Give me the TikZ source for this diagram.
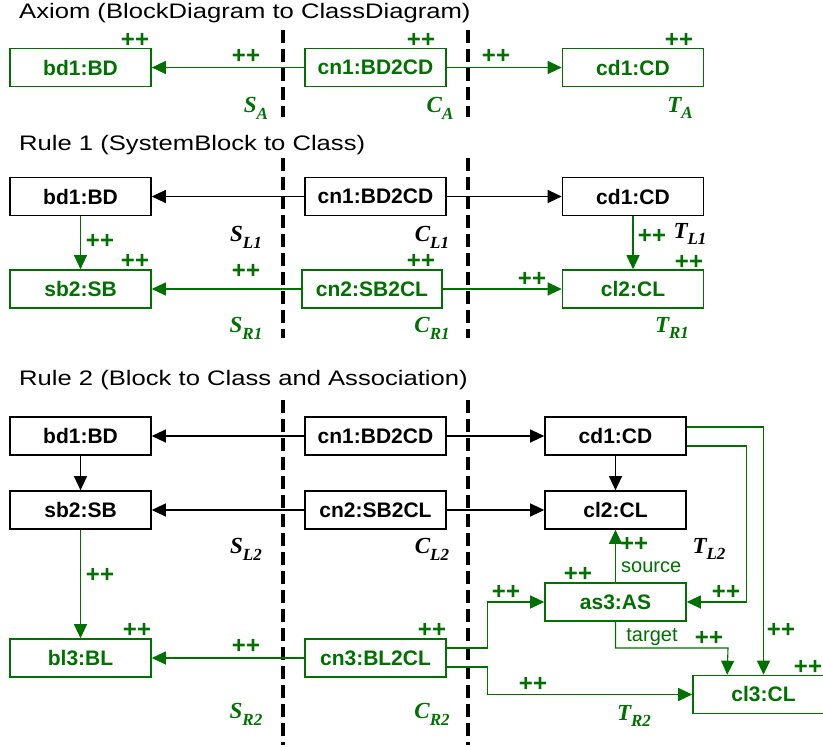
\documentclass[tikz,border=0pt]{standalone}
\usepackage{fontspec}
\usepackage{graphicx}
\usepackage{tikz}
\usetikzlibrary{arrows.meta}
\usetikzlibrary{positioning}
\setmainfont{Liberation Sans}
\newfontfamily\serifbi{Liberation Serif}[UprightFont=*, BoldItalicFont=* Bold Italic]
\definecolor{tggreen}{RGB}{0,112,0}
\newcommand{\rlbl}[2]{#1\raisebox{-0.3em}{\fontsize{17}{17}\selectfont #2}}

\begin{document}
\begin{tikzpicture}[x=1pt,y=-1pt,
    >={Triangle[length=14pt,width=13pt]},
    box/.style={draw,line width=1.6pt,minimum width=141pt,minimum height=38pt,inner sep=0pt,
        font=\bfseries\fontsize{21}{21}\selectfont},
    newbox/.style={box,draw=tggreen,text=tggreen},
    conn/.style={->,line width=1.1pt},
    newconn/.style={conn,draw=tggreen},
    pp/.style={text=tggreen,font=\bfseries\fontsize{24}{24}\selectfont,inner sep=0pt,text depth=0pt},
    word/.style={text=tggreen,font=\fontsize{20}{20}\selectfont,inner sep=0pt},
    lbl/.style={font=\serifbi\bfseries\itshape\fontsize{23}{23}\selectfont,inner sep=0pt},
    newlbl/.style={lbl,text=tggreen},
    sep/.style={line width=3.2pt,dash pattern=on 13pt off 6pt},
    title/.style={anchor=west,inner sep=0pt,font=\fontsize{21}{21}\selectfont}]
        \useasboundingbox (0,0) rectangle (823,747);
        \clip (0,0) rectangle (823,747);

        % Axiom
        \node[title] (tA) at (19,13) {\scalebox{1.22}[1]{Axiom (BlockDiagram to ClassDiagram)}};
        \draw[sep] (283,30) -- (283,117);
        \draw[sep] (468,30) -- (468,117);
        \node[newbox] (abd) at (80.5,67.5) {bd1:BD};
        \node[newbox] (acn) at (375.5,67.5) {cn1:BD2CD};
        \node[newbox] (acd) at (633,67.5) {cd1:CD};
        \draw[newconn] (acn) -- (abd);
        \draw[newconn] (acn) -- (acd);
        \node[pp] (ap1) at (135,40) {++};
        \node[pp] (ap2) at (246,56) {++};
        \node[pp] (ap3) at (421,40) {++};
        \node[pp] (ap4) at (496,56) {++};
        \node[pp] (ap5) at (679,40) {++};
        \node[newlbl] (aS) at (256,108) {\rlbl{S}{A}};
        \node[newlbl] (aC) at (440,108) {\rlbl{C}{A}};
        \node[newlbl] (aT) at (680,108) {\rlbl{T}{A}};

        % Rule 1
        \node[title] (t1) at (19,145) {\scalebox{1.22}[1]{Rule 1 (SystemBlock to Class)}};
        \draw[sep] (283,158) -- (283,338);
        \draw[sep] (468,158) -- (468,338);
        \node[box] (bd1) at (80.5,196.5) {bd1:BD};
        \node[box] (cn1) at (375.5,196.5) {cn1:BD2CD};
        \node[box] (cd1) at (633,196.5) {cd1:CD};
        \node[newbox] (sb2) at (80.5,289) {sb2:SB};
        \node[newbox,minimum width=140pt] (cn2) at (372,289) {cn2:SB2CL};
        \node[newbox] (cl2) at (633,289) {cl2:CL};
        \draw[conn] (cn1) -- (bd1);
        \draw[conn] (cn1) -- (cd1);
        \draw[newconn] (bd1) -- (sb2);
        \draw[newconn] (cd1) -- (cl2);
        \draw[newconn] (cn2) -- (sb2);
        \draw[newconn] (cn2) -- (cl2);
        \node[pp] (p11) at (100,241) {++};
        \node[pp] (p12) at (135,261) {++};
        \node[pp] (p13) at (246,271) {++};
        \node[pp] (p14) at (421,261) {++};
        \node[pp] (p15) at (532,279) {++};
        \node[pp] (p16) at (652,236) {++};
        \node[pp] (p17) at (689,262) {++};
        \node[lbl] (sL1) at (246,237) {\rlbl{S}{L1}};
        \node[lbl] (cL1) at (432,237) {\rlbl{C}{L1}};
        \node[lbl] (tL1) at (690,234) {\rlbl{T}{L1}};
        \node[newlbl] (sR1) at (246,328) {\rlbl{S}{R1}};
        \node[newlbl] (cR1) at (432,328) {\rlbl{C}{R1}};
        \node[newlbl] (tR1) at (672,328) {\rlbl{T}{R1}};

        % Rule 2
        \node[title] (t2) at (19,380) {\scalebox{1.22}[1]{Rule 2 (Block to Class and Association)}};
        \draw[sep] (283,400) -- (283,745);
        \draw[sep] (468,400) -- (468,745);
        \node[box] (bd) at (80.5,436) {bd1:BD};
        \node[box] (cn) at (375.5,436) {cn1:BD2CD};
        \node[box] (cd) at (615.5,436) {cd1:CD};
        \node[box] (sb) at (80.5,510) {sb2:SB};
        \node[box] (cnb) at (375.5,510) {cn2:SB2CL};
        \node[box] (cl) at (615.5,510) {cl2:CL};
        \node[newbox] (bl3) at (80.5,658) {bl3:BL};
        \node[newbox] (cn3) at (375.5,658) {cn3:BL2CL};
        \node[newbox] (as3) at (615.5,602) {as3:AS};
        \node[newbox] (cl3) at (763.5,694.5) {cl3:CL};
        \draw[conn] (cn) -- (bd);
        \draw[conn] (cn) -- (cd);
        \draw[conn] (bd) -- (sb);
        \draw[conn] (cnb) -- (sb);
        \draw[conn] (cnb) -- (cl);
        \draw[conn] (cd) -- (cl);
        \draw[newconn] (sb) -- (bl3);
        \draw[newconn] (cn3) -- (bl3);
        \draw[newconn] ([yshift=10pt]cn3.east) -- ++(41,0) |- (as3.west);
        \draw[newconn] ([yshift=-9pt]cn3.east) -- ++(41,0) |- (cl3.west);
        \draw[newconn] (as3) -- (cl);
        \coordinate (tgt) at (728,648);
        \draw[newconn] (as3.south) |- (tgt) -- ([xshift=35pt]cl3.north west);
        \draw[newconn] ([yshift=-10pt]cd.east) -- ++(60,0) |- (as3.east);
        \draw[newconn] ([yshift=9pt]cd.east) -| (cl3.north);
        \node[pp] (p21) at (100,575) {++};
        \node[pp] (p22) at (137,630) {++};
        \node[pp] (p23) at (246,646) {++};
        \node[pp] (p24) at (432,630) {++};
        \node[pp] (p25) at (578,574) {++};
        \node[pp] (p26) at (506,592) {++};
        \node[pp] (p27) at (533,684) {++};
        \node[pp,anchor=west] (p28) at (620,544) {++};
        \node[word,anchor=west] (src) at (621,567) {source};
        \node[word] (trg) at (652,637) {target};
        \node[pp] (p29) at (709,638) {++};
        \node[pp] (p30) at (726,592) {++};
        \node[pp] (p31) at (781,630) {++};
        \node[pp] (p32) at (808,667) {++};
        \node[lbl] (sL2) at (246,549) {\rlbl{S}{L2}};
        \node[lbl] (cL2) at (432,549) {\rlbl{C}{L2}};
        \node[lbl] (tL2) at (709,549) {\rlbl{T}{L2}};
        \node[newlbl] (sR2) at (246,714) {\rlbl{S}{R2}};
        \node[newlbl] (cR2) at (432,714) {\rlbl{C}{R2}};
        \node[newlbl] (tR2) at (634,716) {\rlbl{T}{R2}};
    \end{tikzpicture}
\end{document}
